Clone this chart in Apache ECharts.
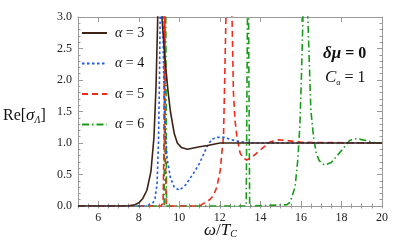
<!DOCTYPE html>
<html><head><meta charset="utf-8">
<script src="https://cdn.jsdelivr.net/npm/echarts@6/dist/echarts.min.js"></script>
<style>html,body{margin:0;padding:0;background:#fff}#c{width:415px;height:250px}</style>
</head><body><div id="c"></div>
<script>
var seriesNames = ['α = 3', 'α = 4', 'α = 5', 'α = 6'];
var xTickLabels = [6, 8, 10, 12, 14, 16, 18, 20];
var yTickLabels = [0.0, 0.5, 1.0, 1.5, 2.0, 2.5, 3.0];

var a3X = [5, 7, 7.5, 7.8, 8.0, 8.2, 8.4, 8.6, 8.75, 8.85, 8.95, 9.02, 9.08, 9.14, 9.3, 9.45, 9.56, 9.75, 9.9, 10.1, 10.4, 11.0, 11.4, 12, 13, 20];
var a3Y = [0, 0, 0.005, 0.02, 0.05, 0.12, 0.25, 0.55, 1.1, 1.9, 3.2, 4.5, 3.8, 3.0, 2.3, 1.8, 1.5, 1.15, 1.0, 0.93, 0.9, 0.94, 0.96, 1.0, 1.0, 1.0];

var a4X = [5, 8.3, 8.5, 8.7, 8.8, 8.9, 8.97, 9.02, 9.07, 9.12, 9.17, 9.22, 9.3, 9.4, 9.56, 9.75, 10.0, 10.3, 10.7, 11.0, 11.36, 11.6, 11.9, 12.2, 12.6, 13.0, 13.5, 20];
var a4Y = [0, 0, 0.02, 0.05, 0.12, 0.35, 1.0, 2.0, 3.5, 4.5, 3.5, 2.2, 1.2, 0.75, 0.45, 0.3, 0.25, 0.33, 0.52, 0.68, 0.94, 1.06, 1.09, 1.09, 1.05, 1.02, 1.0, 1.0];

var a5X = [5, 9.1, 9.2, 9.24, 9.27, 9.3, 9.35, 9.5, 11.0, 11.28, 11.5, 11.69, 11.85, 12.02, 12.1, 12.18, 12.25, 12.3, 12.45, 12.6, 12.67, 12.75, 12.84, 13.0, 13.15, 13.33, 13.6, 14.0, 14.5, 14.9, 15.3, 16, 20];
var a5Y = [0, 0, 0.05, 1.0, 4.0, 1.0, 0.03, 0, 0, 0.06, 0.1, 0.17, 0.3, 0.57, 0.85, 1.1, 2.2, 3.0, 4.5, 3.0, 1.8, 1.35, 1.1, 0.84, 0.76, 0.73, 0.78, 0.89, 1.02, 1.05, 1.04, 1.01, 1.0];

var a6X = [5, 9.25, 9.31, 9.37, 13.3, 13.39, 13.47, 15.3, 15.47, 15.71, 15.85, 15.95, 16.02, 16.1, 16.22, 16.34, 16.49, 16.62, 16.75, 16.9, 17.15, 17.5, 18.0, 18.4, 18.75, 19.2, 19.7, 20];
var a6Y = [0, 0, 4.5, 0, 0, 4.5, 0, 0.02, 0.06, 0.3, 0.75, 1.3, 2.0, 3.0, 4.5, 3.0, 1.52, 1.1, 0.85, 0.72, 0.65, 0.69, 0.88, 1.04, 1.07, 1.04, 1.0, 1.0];

function pairs(xs, ys) { return xs.map(function (x, i) { return [x, ys[i]]; }); }

var colors = ['#3d2314', '#1e5ae6', '#ee2a1a', '#1a9a1a'];
var dashes = ['solid', [2.5, 2.5], [6, 4], [7, 3, 1.5, 3]];
var dataSets = [pairs(a3X, a3Y), pairs(a4X, a4Y), pairs(a5X, a5Y), pairs(a6X, a6Y)];

var serif = 'Liberation Serif';
var frame = '#9a9a9a';

var chart = echarts.init(document.getElementById('c'), null, { renderer: 'canvas' });
var baseX = { type: 'value', min: 5, max: 20, splitLine: { show: false } };
var baseY = { type: 'value', min: 0, max: 3, splitLine: { show: false } };

chart.setOption({
  animation: false,
  grid: { left: 78, right: 33, top: 17, bottom: 44 },
  legend: {
    orient: 'vertical', left: 76, top: 21,
    itemWidth: 25, itemHeight: 10, itemGap: 16.5,
    data: seriesNames,
    itemStyle: { opacity: 0 },
    textStyle: { fontFamily: serif, fontSize: 14, color: '#111', padding: [0, 0, 0, 3],
      rich: { i: { fontFamily: serif, fontStyle: 'italic', fontSize: 14, color: '#111' } } },
    formatter: function (n) { return '{i|α}' + n.slice(1); }
  },
  xAxis: [
    Object.assign({}, baseX, {
      position: 'bottom',
      axisLine: { onZero: false, lineStyle: { color: frame, width: 1 } },
      axisTick: { inside: true, length: 5, lineStyle: { color: frame }, customValues: xTickLabels },
      axisLabel: { fontFamily: serif, fontSize: 12, color: '#222', margin: 6, customValues: xTickLabels }
    }),
    Object.assign({}, baseX, {
      position: 'bottom', interval: 0.5,
      axisLine: { show: false },
      axisTick: { inside: true, length: 2.5, lineStyle: { color: frame } },
      axisLabel: { show: false }
    }),
    Object.assign({}, baseX, {
      position: 'top',
      axisLine: { onZero: false, lineStyle: { color: frame, width: 1 } },
      axisTick: { inside: true, length: 5, lineStyle: { color: frame }, customValues: xTickLabels },
      axisLabel: { show: false }
    }),
    Object.assign({}, baseX, {
      position: 'top', interval: 0.5,
      axisLine: { show: false },
      axisTick: { inside: true, length: 2.5, lineStyle: { color: frame } },
      axisLabel: { show: false }
    })
  ],
  yAxis: [
    Object.assign({}, baseY, {
      position: 'left', interval: 0.5,
      axisLine: { show: true, onZero: false, lineStyle: { color: frame, width: 1 } },
      axisTick: { show: true, inside: true, length: 5, lineStyle: { color: frame } },
      minorTick: { show: true, splitNumber: 5, length: 2.5, lineStyle: { color: frame } },
      axisLabel: { fontFamily: serif, fontSize: 12, color: '#222', margin: 6,
        formatter: function (v) { return v.toFixed(1); } }
    }),
    Object.assign({}, baseY, {
      position: 'right', interval: 0.5,
      axisLine: { show: true, onZero: false, lineStyle: { color: frame, width: 1 } },
      axisTick: { show: true, inside: true, length: 5, lineStyle: { color: frame } },
      minorTick: { show: true, splitNumber: 5, length: 2.5, lineStyle: { color: frame } },
      axisLabel: { show: false }
    })
  ],
  series: seriesNames.map(function (n, i) {
    return {
      name: n, type: 'line', xAxisIndex: 0, yAxisIndex: 0,
      data: dataSets[i], showSymbol: false, symbol: 'none', clip: true,
      lineStyle: { color: colors[i], width: 1.6, type: dashes[i] },
      itemStyle: { color: colors[i] },
      z: 10 - i
    };
  }),
  graphic: [
    { type: 'text', left: 3, top: 107, style: {
      text: 'Re[{s|σ}{sub|Λ}]', font: '16px "Liberation Serif"', fill: '#111',
      rich: { s: { fontFamily: serif, fontStyle: 'italic', fontSize: 17, fill: '#111' },
              sub: { fontFamily: serif, fontStyle: 'italic', fontSize: 10, fill: '#111', padding: [10, 0, 0, 0] } } } },
    { type: 'text', left: 204, top: 222, style: {
      text: '{i|ω}/{i|T}{sub|C}', font: '17px "Liberation Serif"', fill: '#111',
      rich: { i: { fontFamily: serif, fontStyle: 'italic', fontSize: 17, fill: '#111' },
              sub: { fontFamily: serif, fontStyle: 'italic', fontSize: 10, fill: '#111', padding: [8, 0, 0, 0] } } } },
    { type: 'text', left: 323, top: 45, style: {
      text: '{i|δμ} = 0', font: 'bold 16px "Liberation Serif"', fill: '#111',
      rich: { i: { fontFamily: serif, fontStyle: 'italic', fontWeight: 'bold', fontSize: 17, fill: '#111' } } } },
    { type: 'text', left: 325, top: 69, style: {
      text: '{i|C}{sub|α} = 1', font: '16px "Liberation Serif"', fill: '#111',
      rich: { i: { fontFamily: serif, fontStyle: 'italic', fontSize: 17, fill: '#111' },
              sub: { fontFamily: serif, fontSize: 8, fill: '#111', padding: [10, 0, 0, 0] } } } }
  ]
});
</script></body></html>
